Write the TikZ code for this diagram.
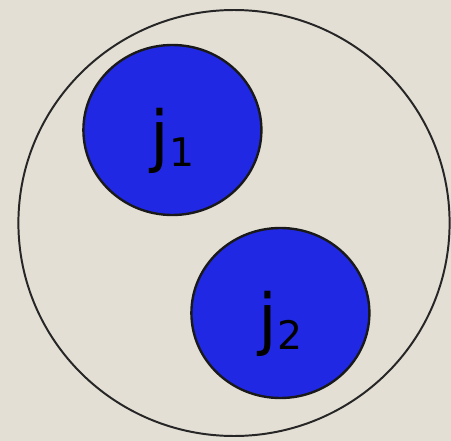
\documentclass[tikz,border=0pt]{standalone}
\usepackage{fontspec}
\setmainfont{DejaVu Sans}
\usetikzlibrary{shapes.geometric}
\definecolor{paper}{RGB}{228,223,213}
\definecolor{jblue}{RGB}{32,40,228}
\newcommand{\jsub}[1]{\raisebox{-5pt}{\fontsize{28}{28}\selectfont #1}}
\begin{document}
\begin{tikzpicture}[
  setbox/.style={draw=black!85, ellipse, line width=1.4pt,
                 minimum width=10.78cm, minimum height=10.65cm},
  jobbox/.style={draw=black!90, ellipse, line width=1.7pt, fill=jblue,
                 minimum width=4.45cm, minimum height=4.25cm,
                 inner sep=0pt, text height=42pt, text depth=0pt,
                 font=\fontsize{48}{48}\selectfont},
]

% Background and bounding box
\fill[paper] (0,0) rectangle (11.275,-11.025);
\useasboundingbox (0,0) rectangle (11.275,-11.025);

% Outer set
\node[setbox] (set) at (5.85,-5.575) {};

% Two jobs inside the set
\node[jobbox] (job1) at (4.31,-3.25) {j\jsub{1}};
\node[jobbox] (job2) at (7.01,-7.825) {j\jsub{2}};

\end{tikzpicture}
\end{document}
